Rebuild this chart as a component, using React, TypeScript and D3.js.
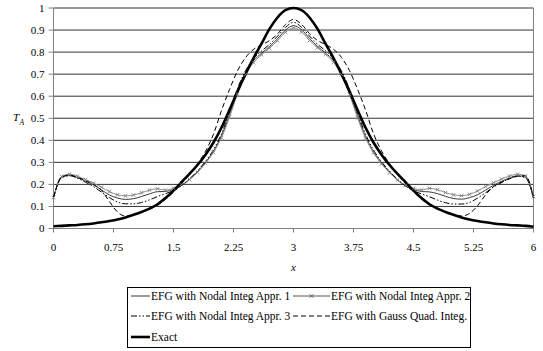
import React from 'react';
import * as d3 from 'd3';

// nodal coordinates x = 0, 0.1, ..., 6.0
const xNodes: number[] = d3.range(61).map((i) => +(i / 10).toFixed(1));

const exact: number[] = [
  0.010, 0.012, 0.014, 0.016, 0.019, 0.023, 0.028, 0.034, 0.041, 0.050,
  0.062, 0.075, 0.090, 0.110, 0.138, 0.172, 0.210, 0.248, 0.288, 0.335,
  0.390, 0.458, 0.538, 0.622, 0.700, 0.773, 0.838, 0.905, 0.957, 0.990,
  1.000,
  0.990, 0.957, 0.905, 0.838, 0.773, 0.700, 0.622, 0.538, 0.458, 0.390,
  0.335, 0.288, 0.248, 0.210, 0.172, 0.138, 0.110, 0.090, 0.075, 0.062,
  0.050, 0.041, 0.034, 0.028, 0.023, 0.019, 0.016, 0.014, 0.012, 0.008,
];

const appr1: number[] = [
  0.140, 0.232, 0.240, 0.230, 0.215, 0.198, 0.175, 0.152, 0.138, 0.132,
  0.135, 0.145, 0.157, 0.167, 0.168, 0.178, 0.195, 0.222, 0.258, 0.300,
  0.350, 0.420, 0.515, 0.620, 0.705, 0.760, 0.795, 0.825, 0.860, 0.900,
  0.920,
  0.902, 0.862, 0.826, 0.796, 0.762, 0.705, 0.618, 0.512, 0.418, 0.348,
  0.298, 0.256, 0.220, 0.193, 0.177, 0.168, 0.166, 0.158, 0.146, 0.136,
  0.133, 0.140, 0.153, 0.174, 0.196, 0.214, 0.229, 0.239, 0.233, 0.140,
];

const appr2: number[] = [
  0.140, 0.236, 0.246, 0.237, 0.222, 0.206, 0.187, 0.167, 0.153, 0.148,
  0.152, 0.162, 0.174, 0.180, 0.174, 0.183, 0.198, 0.222, 0.255, 0.295,
  0.345, 0.412, 0.505, 0.610, 0.698, 0.752, 0.788, 0.818, 0.852, 0.890,
  0.910,
  0.892, 0.853, 0.820, 0.790, 0.754, 0.698, 0.608, 0.502, 0.410, 0.343,
  0.293, 0.253, 0.220, 0.196, 0.182, 0.175, 0.182, 0.176, 0.163, 0.153,
  0.149, 0.155, 0.170, 0.190, 0.208, 0.224, 0.238, 0.246, 0.238, 0.145,
];

const appr3: number[] = [
  0.140, 0.230, 0.240, 0.228, 0.210, 0.190, 0.165, 0.140, 0.120, 0.112,
  0.112, 0.118, 0.130, 0.145, 0.158, 0.172, 0.195, 0.225, 0.262, 0.305,
  0.358, 0.430, 0.530, 0.635, 0.715, 0.770, 0.805, 0.835, 0.872, 0.912,
  0.935,
  0.913, 0.873, 0.836, 0.806, 0.771, 0.714, 0.632, 0.527, 0.428, 0.356,
  0.303, 0.260, 0.223, 0.193, 0.171, 0.157, 0.144, 0.129, 0.117, 0.111,
  0.111, 0.118, 0.138, 0.162, 0.188, 0.208, 0.227, 0.238, 0.230, 0.140,
];

const gauss: number[] = [
  0.140, 0.233, 0.243, 0.232, 0.218, 0.200, 0.172, 0.122, 0.075, 0.056,
  0.062, 0.073, 0.087, 0.105, 0.132, 0.165, 0.203, 0.245, 0.293, 0.350,
  0.428, 0.535, 0.630, 0.715, 0.775, 0.812, 0.833, 0.852, 0.882, 0.925,
  0.948,
  0.926, 0.884, 0.853, 0.834, 0.813, 0.776, 0.716, 0.632, 0.538, 0.430,
  0.352, 0.295, 0.246, 0.204, 0.166, 0.133, 0.106, 0.088, 0.074, 0.063,
  0.057, 0.068, 0.103, 0.152, 0.190, 0.210, 0.225, 0.237, 0.240, 0.142,
];

const xTicks: number[] = [0, 0.75, 1.5, 2.25, 3, 3.75, 4.5, 5.25, 6];
const xTickLabels: string[] = ['0', '0.75', '1.5', '2.25', '3', '3.75', '4.5', '5.25', '6'];
const yTicks: number[] = [0, 0.1, 0.2, 0.3, 0.4, 0.5, 0.6, 0.7, 0.8, 0.9, 1];
const yTickLabels: string[] = ['0', '0.1', '0.2', '0.3', '0.4', '0.5', '0.6', '0.7', '0.8', '0.9', '1'];

const legendNames: string[] = [
  'EFG with Nodal Integ Appr. 1',
  'EFG with Nodal Integ Appr. 2',
  'EFG with Nodal Integ Appr. 3',
  'EFG with Gauss Quad. Integ.',
  'Exact',
];

const FONT = "'Liberation Serif', 'Times New Roman', serif";

export default function App() {
  const W = 543;
  const H = 351;
  const x = d3.scaleLinear().domain([0, 6]).range([53.5, 533.5]);
  const y = d3.scaleLinear().domain([0, 1]).range([228.5, 8]);

  const mk = (vals: number[]) =>
    d3
      .line<number>()
      .x((_, i) => x(xNodes[i]))
      .y((d) => y(d))
      .curve(d3.curveMonotoneX)(vals) || '';

  const styles = [
    { vals: appr1, stroke: '#222', width: 0.9, dash: undefined as string | undefined, marker: false },
    { vals: appr2, stroke: '#8a8a8a', width: 1, dash: undefined, marker: true },
    { vals: appr3, stroke: '#000', width: 1, dash: '6,2,1.5,2,1.5,2' },
    { vals: gauss, stroke: '#000', width: 1, dash: '5,3' },
    { vals: exact, stroke: '#000', width: 2.6, dash: undefined },
  ];

  const cross = (cx: number, cy: number, s: number, key: string, color: string) => (
    <path
      key={key}
      d={`M${cx - s},${cy - s}L${cx + s},${cy + s}M${cx - s},${cy + s}L${cx + s},${cy - s}`}
      stroke={color}
      strokeWidth={0.9}
      fill="none"
    />
  );

  // legend layout
  const legendBox = { x: 127.5, y: 287.5, w: 343, h: 60 };
  const legendItems = [
    { col: 0, row: 0, s: 0 },
    { col: 1, row: 0, s: 1 },
    { col: 0, row: 1, s: 2 },
    { col: 1, row: 1, s: 3 },
    { col: 0, row: 2, s: 4 },
  ];
  const colSample = [
    [131, 150],
    [293, 330],
  ];
  const rowY = [296, 316, 337];

  return (
    <svg
      width={W}
      height={H}
      style={{ position: 'absolute', left: 0, top: 0, background: '#fff' }}
      fontFamily={FONT}
    >
      <rect x={0} y={0} width={W} height={H} fill="#fff" />
      {/* gridlines */}
      {yTicks.map((t) => (
        <line key={'g' + t} x1={x(0)} x2={x(6)} y1={y(t)} y2={y(t)} stroke="#333" strokeWidth={1} />
      ))}
      {/* axes */}
      <line x1={x(0)} x2={x(0)} y1={y(1)} y2={y(0)} stroke="#808080" strokeWidth={1} />
      <line x1={x(6)} x2={x(6)} y1={y(1)} y2={y(0)} stroke="#808080" strokeWidth={1} />
      <line x1={x(0)} x2={x(6)} y1={y(0)} y2={y(0)} stroke="#808080" strokeWidth={1} />
      {yTicks.map((t, i) => (
        <g key={'yt' + t}>
          <line x1={x(0) - 5} x2={x(0)} y1={y(t)} y2={y(t)} stroke="#808080" />
          <text x={44.5} y={y(t) + 3.6} fontSize={11} textAnchor="end" fill="#000">
            {yTickLabels[i]}
          </text>
        </g>
      ))}
      {xTicks.map((t, i) => (
        <g key={'xt' + t}>
          <line x1={x(t)} x2={x(t)} y1={y(0)} y2={y(0) + 4} stroke="#808080" />
          <text x={x(t)} y={251} fontSize={11} textAnchor="middle" fill="#000">
            {xTickLabels[i]}
          </text>
        </g>
      ))}
      {/* axis titles */}
      <text x={x(3)} y={271} fontSize={11} fontStyle="italic" textAnchor="middle">
        x
      </text>
      <text x={13} y={121} fontSize={11} fontStyle="italic">
        T
      </text>
      <text x={19.5} y={124.5} fontSize={7.5} fontStyle="italic">
        A
      </text>

      {/* series */}
      {styles.map((s, k) => (
        <path
          key={'s' + k}
          d={mk(s.vals)}
          fill="none"
          stroke={s.stroke}
          strokeWidth={s.width}
          strokeDasharray={s.dash}
          strokeLinejoin="round"
        />
      ))}
      {appr2.map((v, i) => cross(x(xNodes[i]), y(v), 1.8, 'm' + i, '#808080'))}

      {/* legend */}
      <rect
        x={legendBox.x}
        y={legendBox.y}
        width={legendBox.w}
        height={legendBox.h}
        fill="#fff"
        stroke="#000"
        strokeWidth={1}
      />
      {legendItems.map((it) => {
        const st = styles[it.s];
        const [a, b] = colSample[it.col];
        const ly = rowY[it.row];
        return (
          <g key={'l' + it.s}>
            <line
              x1={a}
              x2={b}
              y1={ly}
              y2={ly}
              stroke={it.s === 1 ? '#555' : st.stroke}
              strokeWidth={st.width}
              strokeDasharray={st.dash}
            />
            {it.s === 1 && cross((a + b) / 2, ly, 1.8, 'lm', '#555')}
            <text x={b + 1} y={ly + 4} fontSize={11.5} fill="#000">
              {legendNames[it.s]}
            </text>
          </g>
        );
      })}
    </svg>
  );
}
